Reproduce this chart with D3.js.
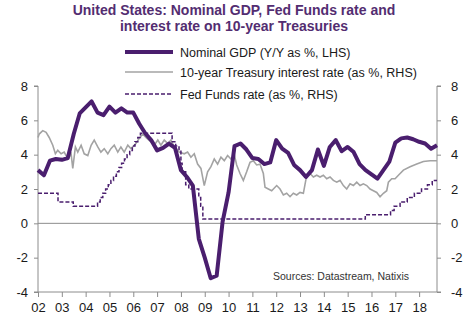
<!DOCTYPE html>
<html>
<head>
<meta charset="utf-8">
<script src="https://cdn.jsdelivr.net/npm/d3@7"></script>
<style>
body { margin: 0; background: #fff; }
text { font-family: Arial, "Liberation Sans", sans-serif; }
</style>
</head>
<body>
<script>
// quarterly nominal GDP, y/y %
var gdpDates = [2002.00,2002.25,2002.50,2002.75,2003.00,2003.25,2003.50,2003.75,
    2004.00,2004.25,2004.50,2004.75,2005.00,2005.25,2005.50,2005.75,
    2006.00,2006.25,2006.50,2006.75,2007.00,2007.25,2007.50,2007.75,
    2008.00,2008.25,2008.50,2008.75,2009.00,2009.25,2009.50,2009.75,
    2010.00,2010.25,2010.50,2010.75,2011.00,2011.25,2011.50,2011.75,
    2012.00,2012.25,2012.50,2012.75,2013.00,2013.25,2013.50,2013.75,
    2014.00,2014.25,2014.50,2014.75,2015.00,2015.25,2015.50,2015.75,
    2016.00,2016.25,2016.50,2016.75,2017.00,2017.25,2017.50,2017.75,
    2018.00,2018.25,2018.50,2018.75];
var gdpValues = [3.1,2.8,3.65,3.75,3.7,3.8,5.2,6.4,
    6.75,7.1,6.45,6.3,6.8,6.45,6.7,6.45,
    6.45,5.8,5.25,4.85,4.25,4.4,4.65,4.4,
    3.1,2.7,2.2,-0.9,-2.0,-3.2,-3.05,0.1,
    1.8,4.5,4.65,4.3,3.8,3.75,3.45,3.55,
    4.85,4.35,4.1,3.4,3.1,2.7,3.1,4.3,
    3.35,4.45,4.85,4.2,4.45,4.15,3.45,3.1,
    2.85,2.6,3.1,3.6,4.7,4.95,5.0,4.9,
    4.75,4.65,4.35,4.55];

// 10-year treasury yield, %
var tsyDates = [2002.00,2002.05,2002.20,2002.34,2002.47,2002.62,2002.73,2002.83,2002.97,
    2003.10,2003.25,2003.39,2003.46,2003.57,2003.67,2003.81,2003.94,
    2004.09,2004.23,2004.36,2004.51,2004.64,2004.78,2004.93,
    2005.06,2005.20,2005.35,2005.48,2005.62,2005.77,2005.90,
    2006.11,2006.25,2006.40,2006.53,2006.74,2006.88,
    2007.03,2007.16,2007.30,2007.45,2007.58,2007.72,2007.93,
    2008.14,2008.28,2008.42,2008.56,2008.70,2008.84,2008.98,
    2009.12,2009.26,2009.40,2009.54,2009.68,2009.82,2009.96,
    2010.10,2010.24,2010.34,2010.48,2010.62,2010.76,2010.90,
    2011.04,2011.18,2011.32,2011.46,2011.53,2011.67,2011.81,
    2012.02,2012.16,2012.30,2012.44,2012.58,2012.72,2012.86,
    2013.00,2013.14,2013.28,2013.42,2013.56,2013.70,2013.84,2013.98,
    2014.12,2014.26,2014.40,2014.54,2014.68,2014.82,2014.96,
    2015.10,2015.24,2015.38,2015.52,2015.66,2015.80,2015.94,
    2016.08,2016.22,2016.36,2016.50,2016.64,2016.71,2016.85,2016.99,
    2017.13,2017.34,2017.62,2017.90,2018.18,2018.46,2018.75];
var tsyValues = [5.0,5.2,5.4,5.3,5.0,4.55,4.05,4.25,4.05,
    4.15,3.75,4.05,3.2,4.45,4.15,4.55,4.05,
    3.95,4.55,4.85,4.45,4.15,4.35,4.05,
    4.35,4.55,4.15,4.45,4.15,4.55,4.35,
    4.65,4.95,5.2,5.0,4.75,4.55,
    4.85,4.55,4.85,4.65,4.85,4.45,4.15,
    4.05,4.15,3.85,4.05,3.45,3.2,2.2,
    3.0,3.3,3.75,3.45,3.85,3.65,3.95,
    3.75,4.0,3.4,2.9,2.5,3.0,3.55,
    3.65,3.4,3.45,2.9,2.1,2.0,1.9,
    2.2,2.0,1.65,1.75,1.55,1.75,1.65,
    1.8,1.75,2.8,2.9,2.7,2.8,2.7,2.8,
    2.6,2.7,2.5,2.4,2.5,2.2,2.0,
    2.3,2.2,2.4,2.2,2.3,2.2,2.0,
    1.9,1.8,1.55,1.75,1.9,2.4,2.6,2.6,
    2.8,3.1,3.3,3.45,3.6,3.65,3.65];

// fed funds target, % (value holds until the next date)
var ffDates = [2002.00,2002.84,2003.48,
    2004.50,2004.61,2004.72,2004.84,2004.95,2005.06,2005.17,2005.29,2005.40,
    2005.51,2005.63,2005.74,2005.85,2005.96,2006.07,2006.19,2006.30,
    2007.63,2007.78,2007.92,2008.00,2008.05,2008.20,2008.33,2008.75,2008.83,2008.92,
    2015.74,2016.80,2016.95,2017.20,2017.50,2017.80,2018.10,2018.35,2018.55,2018.75];
var ffValues = [1.75,1.25,1.0,
    1.25,1.5,1.75,2.0,2.25,2.5,2.75,3.0,3.25,
    3.5,3.75,4.0,4.25,4.5,4.75,5.0,5.25,
    4.75,4.5,4.25,3.5,3.0,2.25,2.0,1.5,1.0,0.25,
    0.5,0.75,1.0,1.25,1.5,1.75,2.0,2.25,2.5,2.5];

var yearTicks = [2002,2003,2004,2005,2006,2007,2008,2009,2010,2011,2012,2013,2014,2015,2016,2017,2018];
var valueTicks = [-4,-2,0,2,4,6,8];

var legendLabels = ["Nominal GDP (Y/Y as %, LHS)",
    "10-year Treasury interest rate (as %, RHS)",
    "Fed Funds rate (as %, RHS)"];

var purple = "#4a1e6e",
    grey = "#a3a3a3",
    axisGrey = "#8c8c8c";

setChart();

function setChart(){
    var width = 476,
        height = 326;

    var svg = d3.select("body")
        .append("svg")
        .attr("width", width)
        .attr("height", height);

    var x = d3.scaleLinear().domain([2002, 2018.75]).range([38, 437]);
    var y = d3.scaleLinear().domain([-4, 8]).range([292, 86]);

    //title
    var title = svg.append("text")
        .attr("text-anchor", "middle")
        .attr("font-size", 14)
        .attr("font-weight", "bold")
        .attr("fill", "#532d71");
    title.append("tspan").attr("x", 234).attr("y", 15)
        .text("United States: Nominal GDP, Fed Funds rate and");
    title.append("tspan").attr("x", 234).attr("y", 31)
        .text("interest rate on 10-year Treasuries");

    //axes
    var fmt = function(d){ return String(d); };
    var left = svg.append("g")
        .attr("transform", "translate(38,0)")
        .call(d3.axisLeft(y).tickValues(valueTicks).tickSize(4).tickPadding(6).tickFormat(fmt));
    var right = svg.append("g")
        .attr("transform", "translate(437,0)")
        .call(d3.axisRight(y).tickValues(valueTicks).tickSize(4).tickPadding(10).tickFormat(fmt));
    var bottom = svg.append("g")
        .attr("transform", "translate(0,292)")
        .call(d3.axisBottom(x).tickValues(yearTicks).tickSize(5).tickPadding(6)
            .tickFormat(function(d){ return String(d).slice(2); }));

    [left, right, bottom].forEach(function(g){
        g.select(".domain").attr("stroke", axisGrey);
        g.selectAll(".tick line").attr("stroke", axisGrey);
        g.selectAll(".tick text")
            .attr("font-size", 13)
            .attr("fill", "#1a1a1a")
            .style("font-family", "Arial, 'Liberation Sans', sans-serif");
    });
    left.select(".domain").attr("d", "M-4," + y(8) + "H0V" + y(-4) + "H-4");
    right.select(".domain").attr("d", "M4," + y(8) + "H0V" + y(-4) + "H4");
    bottom.select(".domain").attr("d", "M" + x(2002) + ",0H" + x(2018.75));

    //zero line
    svg.append("line")
        .attr("x1", x(2002)).attr("x2", x(2018.75))
        .attr("y1", y(0)).attr("y2", y(0))
        .attr("stroke", axisGrey).attr("stroke-width", 1);

    var tsyLine = d3.line()
        .x(function(d){ return x(d[0]); })
        .y(function(d){ return y(d[1]); });
    svg.append("path")
        .datum(d3.zip(tsyDates, tsyValues))
        .attr("d", tsyLine)
        .attr("fill", "none")
        .attr("stroke", grey)
        .attr("stroke-width", 1.6);

    var ffLine = d3.line()
        .curve(d3.curveStepAfter)
        .x(function(d){ return x(d[0]); })
        .y(function(d){ return y(d[1]); });
    svg.append("path")
        .datum(d3.zip(ffDates, ffValues))
        .attr("d", ffLine)
        .attr("fill", "none")
        .attr("stroke", purple)
        .attr("stroke-width", 1.5)
        .attr("stroke-dasharray", "4,2");

    var gdpLine = d3.line()
        .x(function(d){ return x(d[0]); })
        .y(function(d){ return y(d[1]); });
    svg.append("path")
        .datum(d3.zip(gdpDates, gdpValues))
        .attr("d", gdpLine)
        .attr("fill", "none")
        .attr("stroke", purple)
        .attr("stroke-width", 4)
        .attr("stroke-linejoin", "round");

    //legend
    var legendY = [52, 72, 94];
    var legendStyle = [
        {stroke: purple, width: 4, dash: null},
        {stroke: grey, width: 1.6, dash: null},
        {stroke: purple, width: 1.5, dash: "4,2"}
    ];
    legendLabels.forEach(function(label, i){
        svg.append("line")
            .attr("x1", 125).attr("x2", 173)
            .attr("y1", legendY[i]).attr("y2", legendY[i])
            .attr("stroke", legendStyle[i].stroke)
            .attr("stroke-width", legendStyle[i].width)
            .attr("stroke-dasharray", legendStyle[i].dash);
        svg.append("text")
            .attr("x", 180).attr("y", legendY[i] + 4.5)
            .attr("font-size", 12.5)
            .attr("fill", "#1a1a1a")
            .text(label);
    });

    svg.append("text")
        .attr("x", 273).attr("y", 280)
        .attr("font-size", 10.5)
        .attr("fill", "#333")
        .text("Sources: Datastream, Natixis");
}
</script>
</body>
</html>
